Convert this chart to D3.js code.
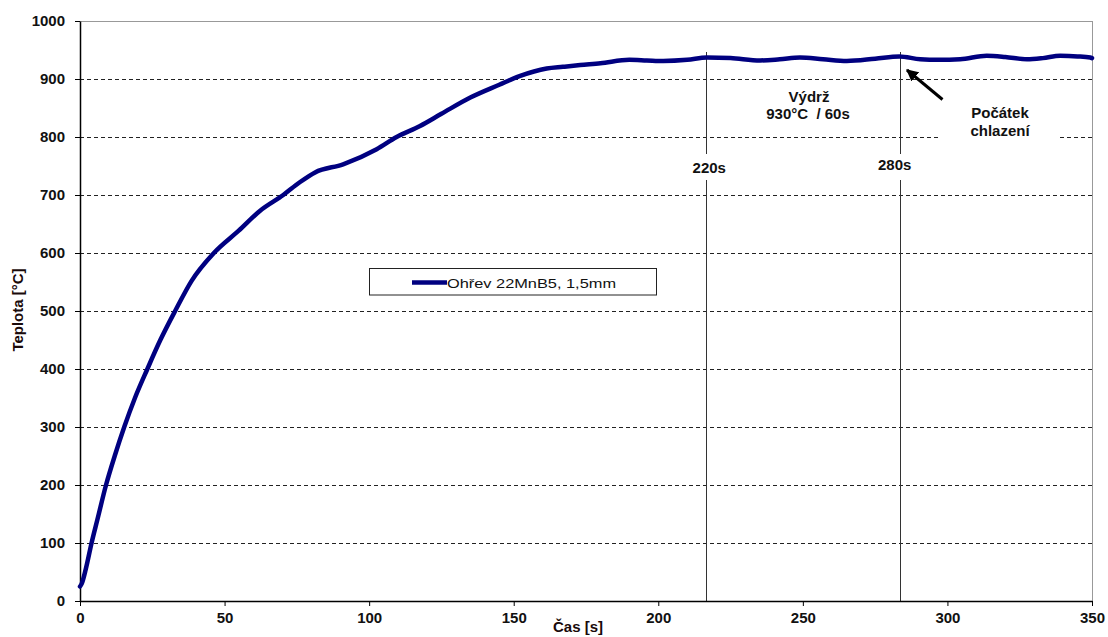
<!DOCTYPE html>
<html><head><meta charset="utf-8">
<script src="https://cdn.jsdelivr.net/npm/d3@7"></script>
<style>body{margin:0;background:#fff;} text{font-family:"Liberation Sans",Arial,sans-serif;white-space:pre;}</style>
</head><body><svg id="c" width="1108" height="637"></svg>
<script>
const times = [0,0.6,2,4,6,9,12,15.3,19,23.3,27.7,32.9,38.6,46.3,54.8,62.3,70.3,76,81.3,91,102.6,109.5,117.6,125,135,145,152,157,161.4,167,173,180,190,196,201.7,210,216.8,225,235.2,242,249,257,265.2,275,283.4,290.6,297,304.4,313.6,320,327.5,333,339,345,349.4,350];
const temps = [25,30,55,100,140,200,250,300,350,400,449,500,552,600,638,673,700,722,739,753,779,800,819,840,868,890,905,913,918,921,924,927,933,932,931,933,937,936,932,934,937,934,931,935,939,934,933,934,940,938,934,936,940,939,937,936];
const xTicks = [0,50,100,150,200,250,300,350];
const yTicks = [0,100,200,300,400,500,600,700,800,900,1000];
const gridValues = [100,200,300,400,500,600,700,800,900];
const markerTimes = [216.6, 283.5];
const markerLabels = ["220s","280s"];
const seriesName = "Ohřev 22MnB5, 1,5mm";
const xTitle = "Čas [s]", yTitle = "Teplota [°C]";

const svg = d3.select("#c");
const L=80, R=1092, T=21, B=601;
const x = d3.scaleLinear().domain([0,350]).range([L,R]);
const y = d3.scaleLinear().domain([0,1000]).range([B,T]);

// grid
svg.append("g").selectAll("line").data(gridValues).join("line")
  .attr("x1",L).attr("x2",R).attr("y1",d=>y(d)+0.5).attr("y2",d=>y(d)+0.5)
  .attr("stroke","#222").attr("stroke-width",1).attr("stroke-dasharray","4,3");
// borders
svg.append("line").attr("x1",L).attr("x2",R).attr("y1",y(1000)+0.5).attr("y2",y(1000)+0.5).attr("stroke","#999");
svg.append("line").attr("x1",R+0.5).attr("x2",R+0.5).attr("y1",T).attr("y2",B).attr("stroke","#999");

// white box behind "Počátek chlazení"
svg.append("rect").attr("x",940).attr("y",104).attr("width",120).attr("height",40).attr("fill","#fff");

// marker vertical lines
markerTimes.forEach((t,i)=>{
  const xx = Math.round(x(t))+0.5;
  svg.append("line").attr("x1",xx).attr("x2",xx).attr("y1",52).attr("y2",154).attr("stroke","#333");
  svg.append("line").attr("x1",xx).attr("x2",xx).attr("y1",180).attr("y2",B).attr("stroke","#333");
});

// axes
const yAxis = d3.axisLeft(y).tickValues(yTicks).tickFormat(d3.format("d")).tickSize(5).tickSizeOuter(0).tickPadding(10);
const gy = svg.append("g").attr("transform",`translate(${L},0)`).call(yAxis);
gy.select(".domain").attr("stroke","#000").attr("stroke-width",1.5);
gy.selectAll(".tick line").attr("stroke","#000");
gy.selectAll("text").attr("font-size",15).attr("font-weight","bold").attr("fill","#111")
  .attr("font-family","Liberation Sans, Arial, sans-serif");
const xAxis = d3.axisBottom(x).tickValues(xTicks).tickFormat(d3.format("d")).tickSize(5).tickSizeOuter(0).tickPadding(6);
const gx = svg.append("g").attr("transform",`translate(0,${B})`).call(xAxis);
gx.select(".domain").attr("stroke","#000").attr("stroke-width",1.5);
gx.selectAll(".tick line").attr("stroke","#000");
gx.selectAll("text").attr("font-size",15).attr("font-weight","bold").attr("fill","#111")
  .attr("font-family","Liberation Sans, Arial, sans-serif");

// titles
svg.append("text").attr("x",578).attr("y",632).attr("text-anchor","middle")
  .attr("font-size",15).attr("font-weight","bold").attr("fill","#1a0a0a").text(xTitle);
svg.append("text").attr("transform","translate(23,310) rotate(-90)").attr("text-anchor","middle")
  .attr("font-size",15).attr("font-weight","bold").attr("fill","#1a0a0a").text(yTitle);

// series
const data = times.map((t,i)=>({t, v:temps[i]}));
svg.append("path").datum(data)
  .attr("d", d3.line().x(d=>x(d.t)).y(d=>y(d.v)).curve(d3.curveMonotoneX))
  .attr("fill","none").attr("stroke","#000080").attr("stroke-width",4.5).attr("stroke-linejoin","round").attr("stroke-linecap","round");

// marker labels
markerTimes.forEach((t,i)=>{
  svg.append("text").attr("x",x(t)+(i===0?3:-5)).attr("y",i===0?173:170).attr("text-anchor","middle")
    .attr("font-size",15).attr("font-weight","bold").attr("fill","#111").text(markerLabels[i]);
});

// annotations
svg.append("text").attr("x",809).attr("y",101.5).attr("text-anchor","middle").attr("font-size",15).attr("font-weight","bold").attr("fill","#111").text("Výdrž");
svg.append("text").attr("x",808).attr("y",119).attr("text-anchor","middle").attr("font-size",15).attr("font-weight","bold").attr("fill","#111").text("930°C  / 60s");
svg.append("text").attr("x",1000).attr("y",118).attr("text-anchor","middle").attr("font-size",15).attr("font-weight","bold").attr("fill","#111").text("Počátek");
svg.append("text").attr("x",1000).attr("y",135.5).attr("text-anchor","middle").attr("font-size",15).attr("font-weight","bold").attr("fill","#111").text("chlazení");

// arrow
svg.append("defs").append("marker").attr("id","ah").attr("viewBox","0 0 10 10").attr("refX",9).attr("refY",5)
  .attr("markerWidth",4).attr("markerHeight",4).attr("orient","auto").attr("markerUnits","strokeWidth")
  .append("path").attr("d","M0,0 L10,5 L0,10 z").attr("fill","#000");
svg.append("line").attr("x1",942.5).attr("y1",99.5).attr("x2",907).attr("y2",70)
  .attr("stroke","#000").attr("stroke-width",3).attr("marker-end","url(#ah)");

// legend
const lg = svg.append("g");
lg.append("rect").attr("x",369.5).attr("y",268.5).attr("width",287).attr("height",26.5).attr("fill","#fff").attr("stroke","#222");
lg.append("line").attr("x1",412).attr("x2",447).attr("y1",282.5).attr("y2",282.5).attr("stroke","#000080").attr("stroke-width",4.5);
lg.append("text").attr("x",447).attr("y",287.5).attr("font-size",13).attr("fill","#111")
  .attr("textLength",169).attr("lengthAdjust","spacingAndGlyphs").text(seriesName);
</script></body></html>
